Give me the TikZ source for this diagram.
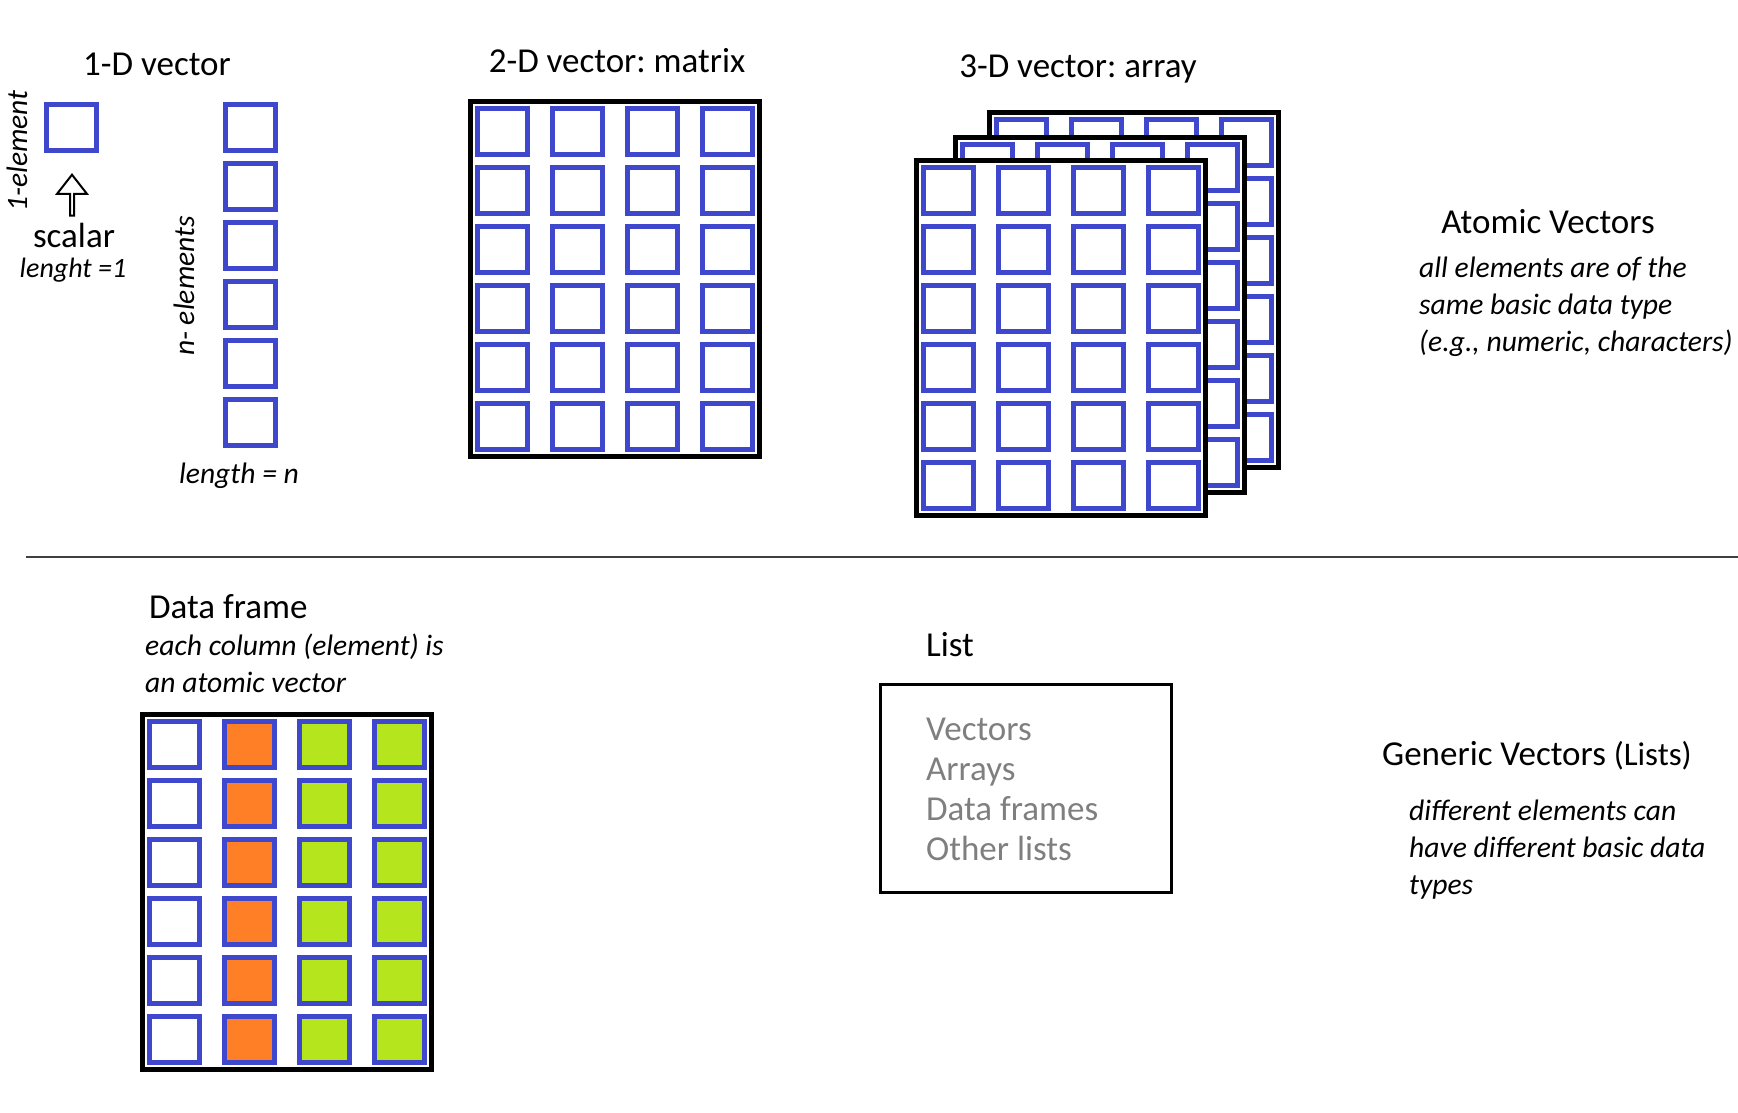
\documentclass[tikz,border=0pt]{standalone}
\usepackage{fontspec}
\setmainfont{Carlito}
\usetikzlibrary{matrix,shapes.arrows}
\frenchspacing

\definecolor{cellblue}{RGB}{63,72,204}
\definecolor{dforange}{RGB}{255,127,39}
\definecolor{dfgreen}{RGB}{181,230,29}
\definecolor{itemgray}{RGB}{127,127,127}

\begin{document}
\begin{tikzpicture}[x=1pt,y=-1pt,
    cell/.style={draw=cellblue,line width=5pt,minimum width=50pt,minimum height=46pt,inner sep=0pt},
    grid/.style={matrix of nodes,nodes in empty cells,nodes={cell},row sep=8pt,column sep=20pt},
    frame/.style={grid,draw,fill=white,line width=5pt,inner sep=4.5pt},
    title/.style={font=\fontsize{35}{40}\selectfont,inner sep=0pt},
    note/.style={font=\fontsize{29.6}{37}\selectfont\itshape,inner sep=0pt,align=left},
    small/.style={font=\fontsize{29.6}{34}\selectfont\itshape,inner sep=0pt}]
  \useasboundingbox (0,0) rectangle (1738,1112);

  \node (t1d) [title,anchor=base] at (157,75) {1-D vector};
  \node (t2d) [title,anchor=base] at (617,72) {2-D vector: matrix};
  \node (t3d) [title,anchor=base] at (1078,77) {3-D vector: array};

  \node (one) [cell] at (71.5,127.5) {};
  \node (onelbl) [small,rotate=90] at (17,151) {1-element};
  \node (up) [draw,line width=2pt,single arrow,rotate=90,minimum height=41pt,minimum width=30pt,
    single arrow head extend=6.5pt,single arrow tip angle=76,inner sep=0pt] at (72,196.5) {};
  \node (scalar) [title,anchor=base] at (74,247) {scalar};
  \node (len1) [small,anchor=base,font=\fontsize{28}{34}\selectfont\itshape] at (73,277) {lenght =1};

  \matrix (vec) [grid] at (250.5,274.5) { \\ \\ \\ \\ \\ \\ };
  \node (nlbl) [small,rotate=90] at (184,286) {n- elements};
  \node (lenn) [small,anchor=base] at (239,483) {length = n};

  \matrix (mat) [frame] at (615,279)
  {
     &&& \\ &&& \\ &&& \\ &&& \\ &&& \\ &&& \\
  };

  \matrix (arr3) [frame] at (1134,290)
  {
     &&& \\ &&& \\ &&& \\ &&& \\ &&& \\ &&& \\
  };
  \matrix (arr2) [frame] at (1100,315)
  {
     &&& \\ &&& \\ &&& \\ &&& \\ &&& \\ &&& \\
  };
  \matrix (arr1) [frame] at (1061,337.5)
  {
     &&& \\ &&& \\ &&& \\ &&& \\ &&& \\ &&& \\
  };

  \node (atomic) [title,anchor=base] at (1548,233) {Atomic Vectors};
  \node (atomicnote) [note,anchor=base west] at (1419,351)
    {all elements are of the\\same basic data type\\(e.g., numeric, characters)};

  \draw[line width=1.5pt,black!75] (26,557) -- (1738,557);

  \node (df) [title,anchor=base west] at (149,618) {Data frame};
  \node (dfnote) [note,anchor=base west] at (145,692) {each column (element) is\\an atomic vector};
  \matrix (frame) [frame,column 2/.style={nodes={fill=dforange}},
    column 3/.style={nodes={fill=dfgreen}},column 4/.style={nodes={fill=dfgreen}}] at (287,892)
  {
     &&& \\ &&& \\ &&& \\ &&& \\ &&& \\ &&& \\
  };

  \node (list) [title,anchor=base west] at (926,656) {List};
  \node (listbox) [draw,line width=3.5pt,minimum width=291pt,minimum height=208pt] at (1026,788.5) {};
  \node (items) [title,align=left,anchor=base west,text=itemgray,font=\fontsize{35}{40}\selectfont] at (926,860)
    {Vectors\\Arrays\\Data frames\\Other lists};

  \node (generic) [title,anchor=base west] at (1382,765) {Generic Vectors {\fontsize{33}{38}\selectfont(Lists)}};
  \node (genericnote) [note,anchor=base west] at (1409,894)
    {different elements can\\have different basic data\\types};
\end{tikzpicture}
\end{document}
